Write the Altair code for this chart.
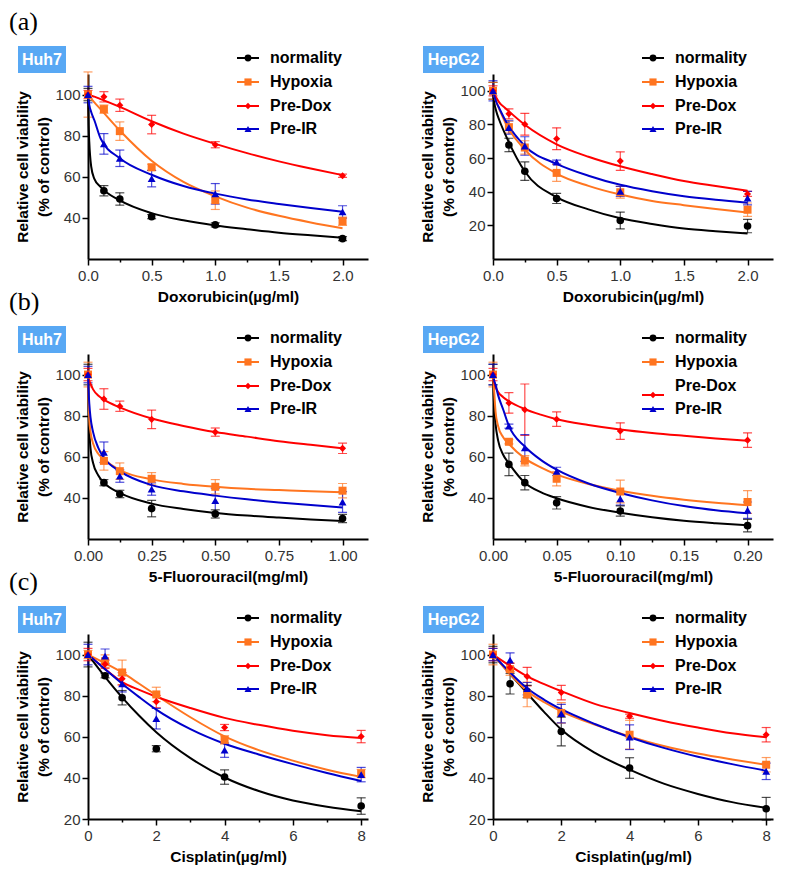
import altair as alt
import pandas as pd

SERIES = ["normality", "Hypoxia", "Pre-Dox", "Pre-IR"]
COLORS = ["#000000", "#FF7520", "#FF0000", "#0000CC"]
SHAPES = ["circle", "square", "diamond", "triangle-up"]
SIZES = [58, 64, 50, 62]
BADGE = "#58A8F4"
FONT = "Liberation Sans, Arial, sans-serif"
YTITLE = ["Relative cell viability", "(% of control)"]

# ---------------- (a) Doxorubicin ----------------
DOSE_A = [0, 0.125, 0.25, 0.5, 1.0, 2.0]
A_HUH7_MEAN = {
    "normality": [100, 53.2, 49.2, 40.6, 36.6, 29.9],
    "Hypoxia": [100, 92.9, 82.2, 64.6, 48.6, 38.4],
    "Pre-Dox": [100, 98.9, 94.8, 85.4, 75.6, 60.5],
    "Pre-IR": [100, 76.0, 69.0, 59.1, 51.7, 42.9],
}
A_HUH7_SD = {
    "normality": [3, 2.5, 3, 1, 1, 1],
    "Hypoxia": [11, 2, 4.5, 1.5, 4.5, 2],
    "Pre-Dox": [2, 2.5, 3, 4.5, 1.5, 0.8],
    "Pre-IR": [4, 5, 4, 4, 5, 3],
}
A_HEPG2_MEAN = {
    "normality": [100, 67.8, 52.2, 36.0, 22.9, 19.6],
    "Hypoxia": [100, 78.4, 66.3, 51.2, 39.7, 29.3],
    "Pre-Dox": [100, 86.3, 80.1, 71.5, 58.2, 38.7],
    "Pre-IR": [100, 78.2, 67.2, 57.6, 40.2, 36.2],
}
A_HEPG2_SD = {
    "normality": [5, 4, 5.5, 3, 5, 4],
    "Hypoxia": [5, 3.5, 4, 5, 3.5, 4],
    "Pre-Dox": [3, 3, 6.5, 6.5, 5.5, 1.5],
    "Pre-IR": [6, 4, 5.5, 1.2, 3, 4],
}
A_FIT_X = [0, 0.005, 0.01, 0.025, 0.05, 0.1, 0.25, 0.5, 0.75, 1.0, 1.25, 1.5, 1.75, 2.0]
A_HUH7_FIT = {
    "normality": [100, 85, 77, 65, 59, 55, 48.5, 42.3, 38.8, 36.3, 34.5, 32.8, 31.5, 30.3],
    "Hypoxia": [100, 99.6, 99.2, 98, 96.2, 92.8, 82.5, 67.8, 57.5, 50.5, 45, 41, 37.8, 35],
    "Pre-Dox": [100, 99.9, 99.8, 99.5, 99, 97.8, 94, 87, 81, 76, 71.5, 67.5, 64, 60.8],
    "Pre-IR": [100, 97, 95, 91.5, 87.5, 78.5, 69, 61, 55.5, 51.8, 49, 46.8, 44.8, 43],
}
A_HEPG2_FIT = {
    "normality": [100, 96, 93, 88, 82.5, 73.5, 52, 36.8, 29.5, 24.2, 20.8, 18.1, 16.5, 15.2],
    "Hypoxia": [100, 98.5, 97, 93.5, 89, 80.5, 65, 50.8, 43.5, 38.3, 34.5, 32, 29.7, 27.7],
    "Pre-Dox": [100, 99, 98, 96, 93, 89.5, 79.8, 68.2, 60.8, 55.1, 50.5, 46.4, 43.4, 40.6],
    "Pre-IR": [100, 98.5, 97, 93.5, 89.5, 82, 67.2, 56.6, 49.5, 44.1, 40.3, 37.3, 35.2, 33.5],
}

# ---------------- (b) 5-Fluorouracil ----------------
DOSE_B_HUH7 = [0, 0.0625, 0.125, 0.25, 0.5, 1.0]
B_HUH7_MEAN = {
    "normality": [100, 47.4, 41.9, 34.8, 32.2, 30.0],
    "Hypoxia": [100, 58.0, 53.0, 49.3, 45.4, 43.5],
    "Pre-Dox": [100, 88.1, 84.6, 78.2, 72.0, 64.1],
    "Pre-IR": [100, 62.2, 50.6, 44.3, 38.7, 38.0],
}
B_HUH7_SD = {
    "normality": [5, 1.5, 1.8, 4, 2, 2],
    "Hypoxia": [6, 4.5, 4, 3, 3.5, 3.5],
    "Pre-Dox": [3, 5, 2.5, 4.5, 2, 2.5],
    "Pre-IR": [4, 5, 3, 3, 6, 5],
}
B_HUH7_FIT_X = [0, 0.002, 0.005, 0.01, 0.02, 0.04, 0.0625, 0.125, 0.25, 0.375, 0.5, 0.625, 0.75, 0.875, 1.0]
B_HUH7_FIT = {
    "normality": [100, 85, 73, 64, 57, 51, 47.4, 42.4, 37.2, 34.6, 32.7, 31.4, 30.4, 29.5, 28.8],
    "Hypoxia": [100, 88, 78, 72, 66.5, 61.5, 58.8, 53.5, 49, 46.8, 45.4, 44.4, 43.8, 43.2, 42.7],
    "Pre-Dox": [100, 98.5, 97, 95.5, 92.8, 89.8, 87.8, 84, 78.6, 75, 72, 69.8, 67.6, 65.8, 64.1],
    "Pre-IR": [100, 93, 86, 79, 72, 64.5, 59.5, 53, 46.2, 43.2, 41.1, 39.3, 37.8, 36.5, 35.3],
}
DOSE_B_HEPG2 = [0, 0.0125, 0.025, 0.05, 0.1, 0.2]
B_HEPG2_MEAN = {
    "normality": [100, 56.3, 47.4, 37.6, 33.6, 26.5],
    "Hypoxia": [100, 67.3, 58.1, 49.3, 43.1, 38.0],
    "Pre-Dox": [100, 86.2, 82.9, 78.3, 72.5, 68.1],
    "Pre-IR": [100, 74.9, 64.3, 52.9, 39.5, 34.0],
}
B_HEPG2_SD = {
    "normality": [5, 5.5, 3.5, 3, 2.5, 3],
    "Hypoxia": [6, 1, 2.5, 3.5, 5.5, 5.5],
    "Pre-Dox": [3, 5, 12.5, 3.5, 4, 3.5],
    "Pre-IR": [5, 1, 6.5, 2, 3, 4],
}
B_HEPG2_FIT_X = [0, 0.0005, 0.001, 0.002, 0.004, 0.008, 0.0125, 0.025, 0.0375, 0.05,
                 0.075, 0.1, 0.125, 0.15, 0.175, 0.2]
B_HEPG2_FIT = {
    "normality": [100, 90, 84, 76, 68, 61, 56.8, 47.4, 42.8, 39.8, 35.6, 32.8, 30.6, 28.9, 27.7, 26.7],
    "Hypoxia": [100, 95, 91, 82, 75, 69.5, 66.2, 59.2, 54.8, 51.3, 46.8, 43.5, 41, 39.1, 37.6, 36.4],
    "Pre-Dox": [100, 97.5, 96, 94, 91.5, 89, 87, 83.2, 80.5, 78.3, 75.5, 73.3, 71.6, 70.2, 68.9, 67.8],
    "Pre-IR": [100, 98.5, 97, 95, 90, 83, 75, 65, 58.5, 53.7, 47, 42.4, 38.8, 36, 34, 32.5],
}

# ---------------- (c) Cisplatin ----------------
DOSE_C = [0, 0.5, 1, 2, 4, 8]
C_HUH7_MEAN = {
    "normality": [100, 89.7, 79.0, 54.2, 40.4, 26.3],
    "Hypoxia": [100, 96.8, 91.3, 80.6, 58.5, 42.1],
    "Pre-Dox": [100, 95.3, 88.2, 77.1, 64.5, 60.1],
    "Pre-IR": [100, 99.2, 85.8, 68.8, 53.5, 41.6],
}
C_HUH7_SD = {
    "normality": [6, 1, 3.5, 1.5, 3.5, 4],
    "Hypoxia": [2, 3, 6, 3.5, 2, 2],
    "Pre-Dox": [3, 2, 3, 3, 1.5, 3],
    "Pre-IR": [5, 3.5, 4, 5, 3.5, 3.5],
}
C_HEPG2_MEAN = {
    "normality": [100, 85.8, 82.0, 62.6, 44.8, 25.0],
    "Hypoxia": [100, 92.9, 80.6, 71.6, 61.0, 46.4],
    "Pre-Dox": [100, 93.7, 89.3, 81.5, 70.0, 61.0],
    "Pre-IR": [100, 97.3, 83.4, 71.3, 59.8, 43.2],
}
C_HEPG2_SD = {
    "normality": [4, 5, 3, 7, 5, 5.5],
    "Hypoxia": [5, 3, 6, 5, 7, 3.5],
    "Pre-Dox": [3, 2, 4.5, 3.5, 1, 3.5],
    "Pre-IR": [3, 3.5, 3, 4.5, 6, 4],
}
C_FIT_X = [0, 0.5, 1, 1.5, 2, 3, 4, 5, 6, 7, 8]
C_HUH7_FIT = {
    "normality": [100, 89.2, 79.2, 70.2, 62.2, 49.6, 40.2, 33.6, 29.0, 26.0, 23.8],
    "Hypoxia": [100, 95.8, 91.3, 85.8, 80.2, 69.5, 60.2, 53.5, 48.4, 44, 40.5],
    "Pre-Dox": [100, 92.9, 86.6, 82.8, 79.5, 74, 69.2, 65.8, 62.9, 60.8, 59.4],
    "Pre-IR": [100, 92.9, 85.8, 79.3, 73.2, 63.7, 56.6, 51.4, 46.7, 42.4, 38.5],
}
C_HEPG2_FIT = {
    "normality": [100, 90.5, 81.2, 72, 63.5, 52, 44, 37.2, 32.2, 28.2, 25.4],
    "Hypoxia": [100, 90.5, 82.2, 76.8, 72.4, 65.8, 60.2, 55.5, 51.9, 49, 46.4],
    "Pre-Dox": [100, 94.5, 89.4, 85.6, 82.2, 75.9, 71.6, 67.7, 64.5, 61.7, 59.8],
    "Pre-IR": [100, 91.3, 83.6, 78, 73.4, 66.1, 59.8, 54.6, 50.3, 46.7, 43.5],
}

# axis ticks
X_TICKS_A = [0, 0.25, 0.5, 0.75, 1.0, 1.25, 1.5, 1.75, 2.0]
X_TICKS_B_HUH7 = [0, 0.125, 0.25, 0.375, 0.5, 0.625, 0.75, 0.875, 1.0]
X_TICKS_B_HEPG2 = [0, 0.025, 0.05, 0.075, 0.1, 0.125, 0.15, 0.175, 0.2]
X_TICKS_C = [0, 1, 2, 3, 4, 5, 6, 7, 8]

W, H = 280, 185
LEG_Y = [-16, 8, 32, 55]


def make_panel(dose, mean, sd, fx, fy, xmax, xticks, step, dec, xtitle,
               ymin, yticks, badge, badge_w, tag=None, sym_dy=None):
    sym_dy = sym_dy or {}
    rows = []
    for s in SERIES:
        for d, m, e in zip(dose, mean[s], sd[s]):
            rows.append({"series": s, "dose": d, "mean": m, "lo": m - e, "hi": m + e})
    pts = pd.DataFrame(rows)
    frows = []
    for s in SERIES:
        for x, y in zip(fx, fy[s]):
            frows.append({"series": s, "dose": x, "fit": y})
    fit = pd.DataFrame(frows)

    test = f"abs(datum.value/{step} - round(datum.value/{step})) < 0.001"
    lab = f"{test} ? format(datum.value, '.{dec}f') : ''"
    xs = alt.Scale(domain=[0, xmax], nice=False, zero=False)
    ys = alt.Scale(domain=[ymin, 110], nice=False, zero=False)
    xa = alt.Axis(values=xticks, labelExpr=lab, title=xtitle, labelFlush=False,
                  labelOverlap=False, labelPadding=3, titlePadding=6,
                  tickSize={"condition": {"test": test, "value": 6}, "value": 3})
    ya = alt.Axis(values=yticks, title=YTITLE, tickSize=6, labelPadding=2,
                  titlePadding=3, labelFlush=False)

    def X(f):
        return alt.X(f, scale=xs, axis=xa)

    def Y(f):
        return alt.Y(f, scale=ys, axis=ya)

    col = alt.Color("series:N", scale=alt.Scale(domain=SERIES, range=COLORS), legend=None)
    base = alt.Chart(pts)
    layers = [
        base.mark_rule(strokeWidth=1.2, opacity=0.7).encode(
            x=X("dose:Q"), y=Y("lo:Q"), y2="hi:Q", color=col)
    ]
    for f in ["lo", "hi"]:
        layers.append(base.mark_tick(orient="horizontal", size=9, thickness=1.2, opacity=0.7).encode(
            x=X("dose:Q"), y=Y(f + ":Q"), color=col))
    layers.append(alt.Chart(fit).mark_line(strokeWidth=2, interpolate="monotone").encode(
        x=X("dose:Q"), y=Y("fit:Q"), color=col))
    for i, s in enumerate(SERIES):
        layers.append(base.transform_filter(alt.datum.series == s).mark_point(
            shape=SHAPES[i], size=SIZES[i], filled=True, opacity=1, color=COLORS[i]).encode(
            x=X("dose:Q"), y=Y("mean:Q")))

    one = pd.DataFrame({"k": [0]})
    for i, s in enumerate(SERIES):
        yy = LEG_Y[i] + sym_dy.get(s, 0)
        layers.append(alt.Chart(one).mark_rule(color=COLORS[i], strokeWidth=2).encode(
            x=alt.value(149), x2=alt.value(171), y=alt.value(yy)))
        layers.append(alt.Chart(one).mark_point(shape=SHAPES[i], size=SIZES[i] * 0.8, filled=True,
                                                opacity=1, color=COLORS[i]).encode(
            x=alt.value(160), y=alt.value(yy)))
        layers.append(alt.Chart(one).mark_text(text=s, align="left", baseline="middle", font=FONT,
                                               fontSize=16, fontWeight="bold", color="black").encode(
            x=alt.value(182), y=alt.value(LEG_Y[i])))

    layers.append(alt.Chart(one).mark_rect(color=BADGE).encode(
        x=alt.value(-70), x2=alt.value(-70 + badge_w), y=alt.value(-28), y2=alt.value(-1)))
    layers.append(alt.Chart(one).mark_text(text=badge, align="center", baseline="middle", font=FONT,
                                           fontSize=16, fontWeight="bold", color="white").encode(
        x=alt.value(-70 + badge_w / 2), y=alt.value(-14)))
    if tag:
        layers.append(alt.Chart(one).mark_text(text=tag, align="left", baseline="middle",
                                               font="Liberation Serif, DejaVu Serif, serif",
                                               fontSize=26, color="black").encode(
            x=alt.value(-79), y=alt.value(-52)))
    return alt.layer(*layers).properties(width=W, height=H)


panels = [
    make_panel(DOSE_A, A_HUH7_MEAN, A_HUH7_SD, A_FIT_X, A_HUH7_FIT, 2.2, X_TICKS_A, 0.5, 1,
               "Doxorubicin(µg/ml)", 20, [40, 60, 80, 100], "Huh7", 48, tag="(a)"),
    make_panel(DOSE_A, A_HEPG2_MEAN, A_HEPG2_SD, A_FIT_X, A_HEPG2_FIT, 2.2, X_TICKS_A, 0.5, 1,
               "Doxorubicin(µg/ml)", 0, [20, 40, 60, 80, 100], "HepG2", 61),
    make_panel(DOSE_B_HUH7, B_HUH7_MEAN, B_HUH7_SD, B_HUH7_FIT_X, B_HUH7_FIT, 1.1, X_TICKS_B_HUH7,
               0.25, 2, "5-Fluorouracil(mg/ml)", 20, [40, 60, 80, 100], "Huh7", 48, tag="(b)"),
    make_panel(DOSE_B_HEPG2, B_HEPG2_MEAN, B_HEPG2_SD, B_HEPG2_FIT_X, B_HEPG2_FIT, 0.22,
               X_TICKS_B_HEPG2, 0.05, 2, "5-Fluorouracil(mg/ml)", 20, [40, 60, 80, 100], "HepG2", 61,
               sym_dy={"Pre-Dox": 9}),
    make_panel(DOSE_C, C_HUH7_MEAN, C_HUH7_SD, C_FIT_X, C_HUH7_FIT, 8.2, X_TICKS_C, 2, 0,
               "Cisplatin(µg/ml)", 20, [20, 40, 60, 80, 100], "Huh7", 48, tag="(c)"),
    make_panel(DOSE_C, C_HEPG2_MEAN, C_HEPG2_SD, C_FIT_X, C_HEPG2_FIT, 8.2, X_TICKS_C, 2, 0,
               "Cisplatin(µg/ml)", 20, [20, 40, 60, 80, 100], "HepG2", 61),
]

chart = alt.concat(*panels, columns=2, spacing={"row": 95, "column": 125}, bounds="flush").properties(
    padding=1, background="white"
).configure_view(stroke=None).configure_axis(
    domainColor="black", domainWidth=2, tickColor="black", tickWidth=1.5,
    labelFont=FONT, labelFontSize=15, labelColor="#333333",
    titleFont=FONT, titleFontSize=15.5, titleFontWeight="bold", titleColor="black",
    titleLineHeight=21, grid=False,
)

chart.save("out.html", embed_options={"renderer": "svg", "actions": False})
